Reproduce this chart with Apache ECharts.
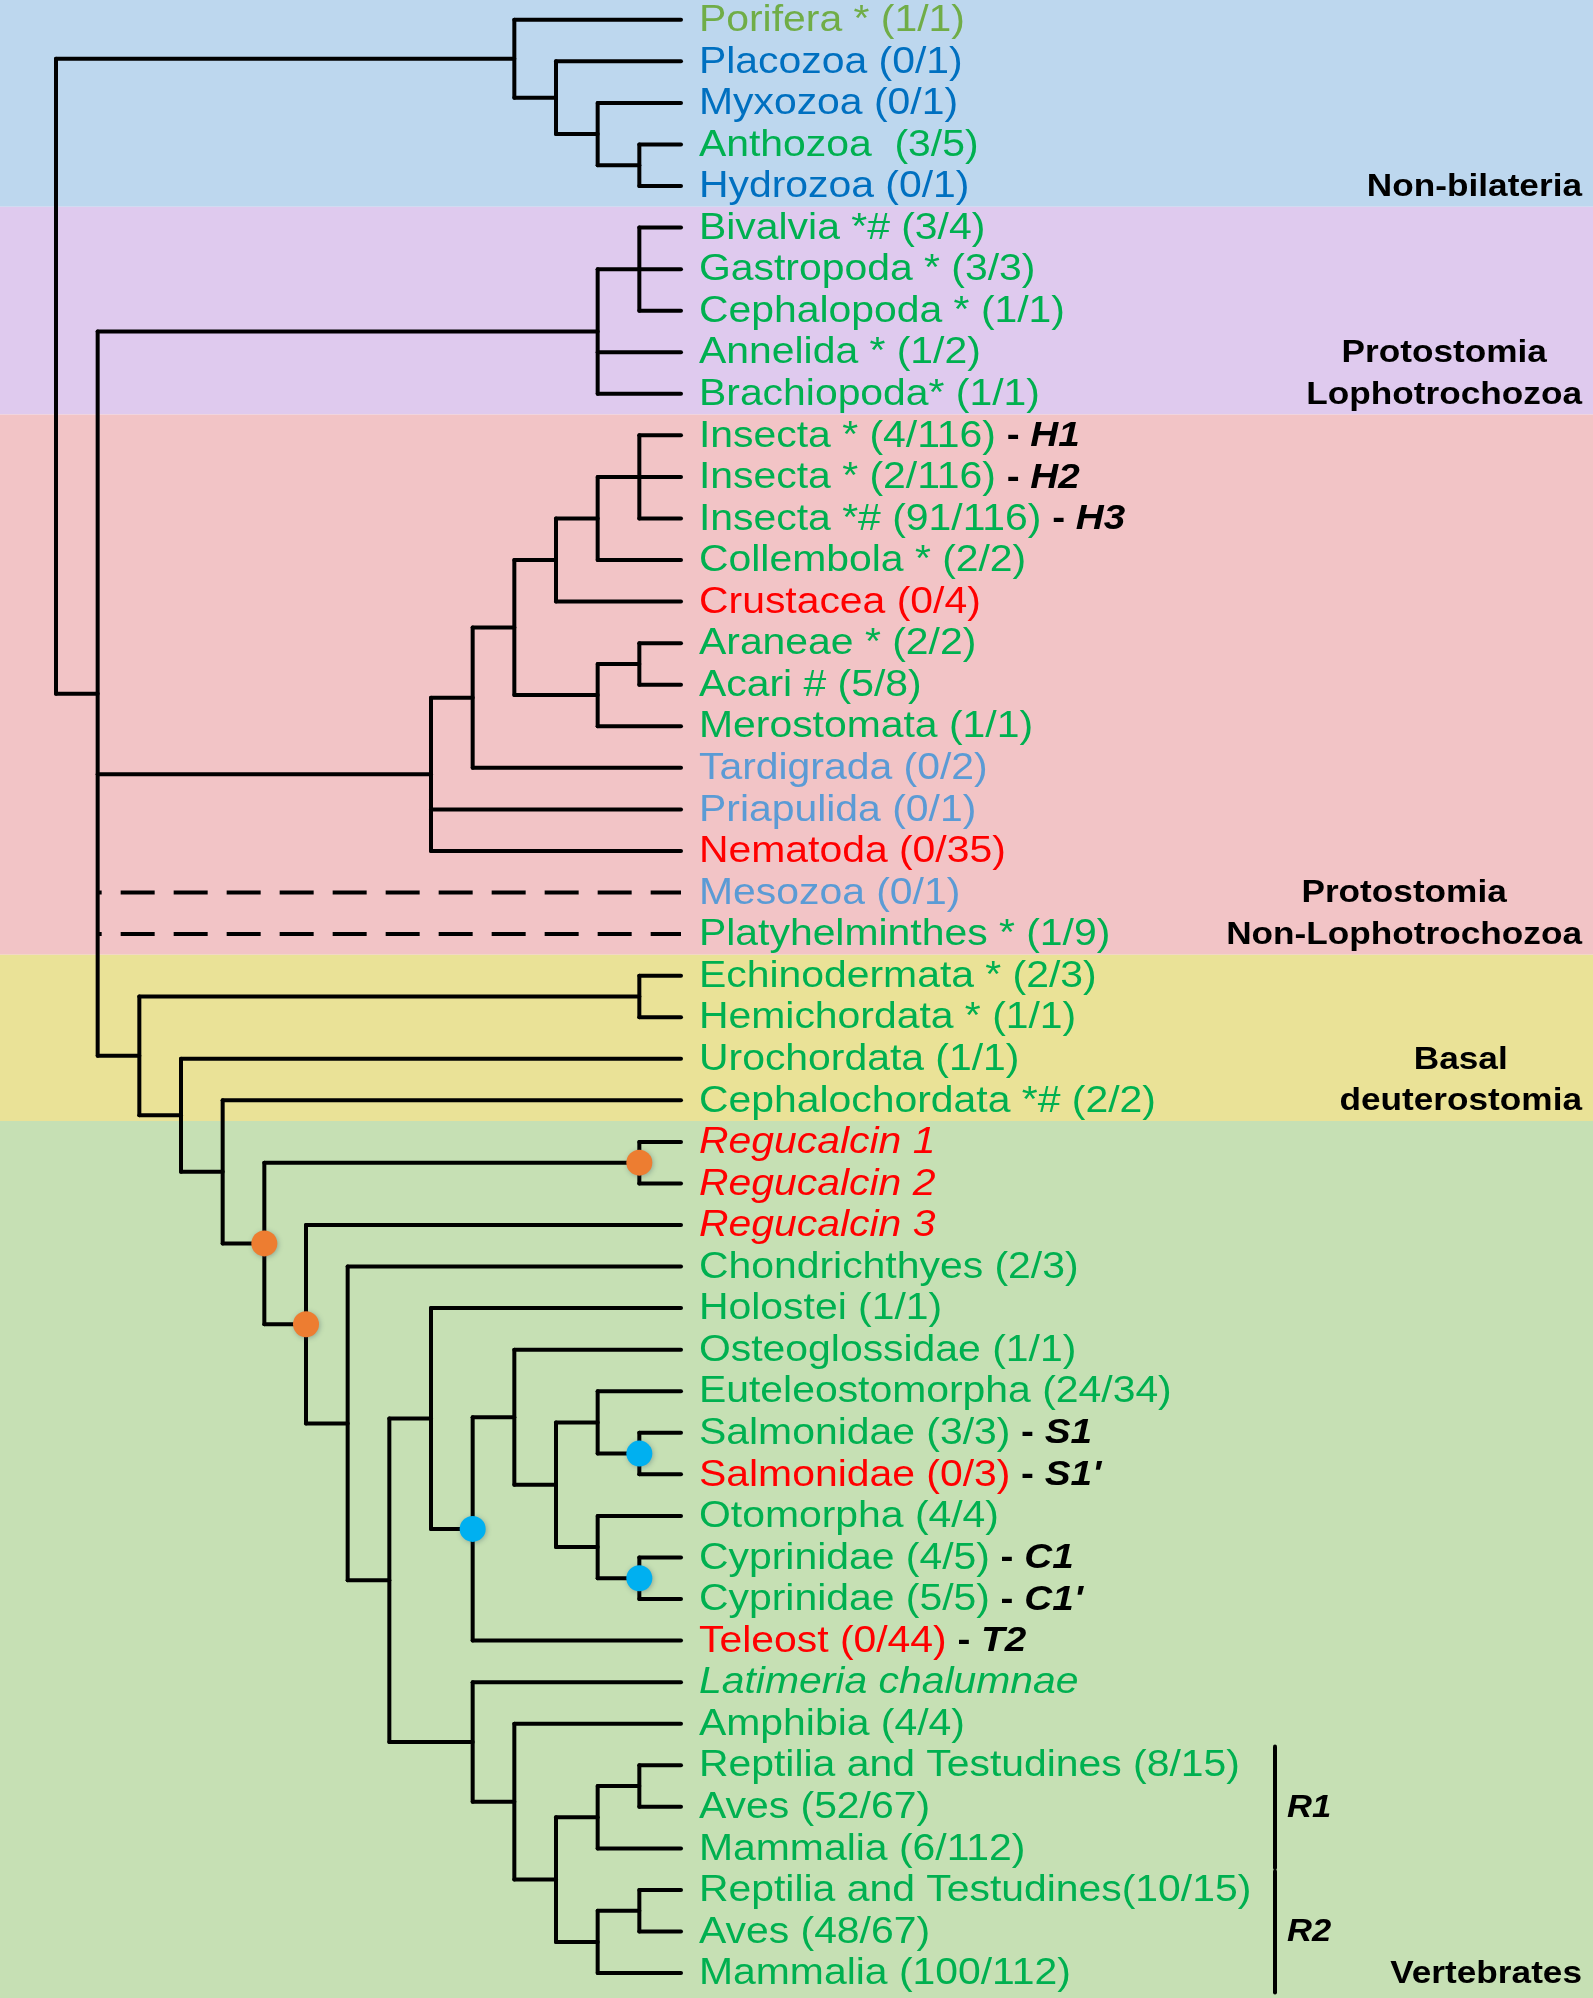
<!DOCTYPE html>
<html>
<head>
<meta charset="utf-8">
<script src="https://cdn.jsdelivr.net/npm/echarts@6/dist/echarts.min.js"></script>
<style>
html,body{margin:0;padding:0;background:#fff;}
#chart{width:1593px;height:1998px;}
</style>
</head>
<body>
<div id="chart"></div>
<script>
// ---------- DATA ----------
const leafNames = [
  'Porifera * (1/1)', 'Placozoa (0/1)', 'Myxozoa (0/1)', 'Anthozoa  (3/5)', 'Hydrozoa (0/1)',
  'Bivalvia *# (3/4)', 'Gastropoda * (3/3)', 'Cephalopoda * (1/1)', 'Annelida * (1/2)', 'Brachiopoda* (1/1)',
  'Insecta * (4/116)', 'Insecta * (2/116)', 'Insecta *# (91/116)', 'Collembola * (2/2)', 'Crustacea (0/4)',
  'Araneae * (2/2)', 'Acari # (5/8)', 'Merostomata (1/1)', 'Tardigrada (0/2)', 'Priapulida (0/1)',
  'Nematoda (0/35)', 'Mesozoa (0/1)', 'Platyhelminthes * (1/9)',
  'Echinodermata * (2/3)', 'Hemichordata * (1/1)', 'Urochordata (1/1)', 'Cephalochordata *# (2/2)',
  'Regucalcin 1', 'Regucalcin 2', 'Regucalcin 3', 'Chondrichthyes (2/3)', 'Holostei (1/1)',
  'Osteoglossidae (1/1)', 'Euteleostomorpha (24/34)', 'Salmonidae (3/3)', 'Salmonidae (0/3)',
  'Otomorpha (4/4)', 'Cyprinidae (4/5)', 'Cyprinidae (5/5)', 'Teleost (0/44)', 'Latimeria chalumnae',
  'Amphibia (4/4)', 'Reptilia and Testudines (8/15)', 'Aves (52/67)', 'Mammalia (6/112)',
  'Reptilia and Testudines(10/15)', 'Aves (48/67)', 'Mammalia (100/112)'
];
// colour class of each leaf label
const leafClass = [
  'olive','blue','blue','green','blue',
  'green','green','green','green','green',
  'green','green','green','green','red',
  'green','green','green','lblue','lblue',
  'red','lblue','green',
  'green','green','green','green',
  'red','red','red','green','green',
  'green','green','green','red',
  'green','green','green','red','green',
  'green','green','green','green',
  'green','green','green'
];
const italicLeaves = [27, 28, 29, 40];
const leafTags = {10:'H1', 11:'H2', 12:'H3', 34:'S1', 35:"S1'", 37:'C1', 38:"C1'", 39:'T2'};

// internal nodes: [id, depth level, children (leaf index or node id)]
const clades = [
  ['root', 0, ['NB', 'B']],
  ['NB', 11, [0, 'N1']],
  ['N1', 12, [1, 'N2']],
  ['N2', 13, [2, 'N3']],
  ['N3', 14, [3, 4]],
  ['B', 1, ['L', 'Ecd', 21, 22, 'Deut']],
  ['L', 13, ['Moll', 8, 9]],
  ['Moll', 14, [5, 6, 7]],
  ['Ecd', 9, ['E1', 19, 20]],
  ['E1', 10, ['E2', 18]],
  ['E2', 11, ['E3', 'E4']],
  ['E3', 12, ['E5', 14]],
  ['E5', 13, ['Ins', 13]],
  ['Ins', 14, [10, 11, 12]],
  ['E4', 13, ['Ar', 17]],
  ['Ar', 14, [15, 16]],
  ['Deut', 2, ['Amb', 'D2']],
  ['Amb', 14, [23, 24]],
  ['D2', 3, [25, 'D3']],
  ['D3', 4, [26, 'V']],
  ['V', 5, ['Reg', 'V2']],
  ['Reg', 14, [27, 28]],
  ['V2', 6, [29, 'V3']],
  ['V3', 7, [30, 'V4']],
  ['V4', 8, ['Act', 'Sarc']],
  ['Act', 9, [31, 'Tel']],
  ['Tel', 10, ['T1', 39]],
  ['T1', 11, [32, 'T2']],
  ['T2', 12, ['T3', 'T4']],
  ['T3', 13, [33, 'Sal']],
  ['Sal', 14, [34, 35]],
  ['T4', 13, [36, 'Cyp']],
  ['Cyp', 14, [37, 38]],
  ['Sarc', 10, [40, 'Tet']],
  ['Tet', 11, [41, 'Amn']],
  ['Amn', 12, ['R1', 'R2']],
  ['R1', 13, ['RA1', 44]],
  ['RA1', 14, [42, 43]],
  ['R2', 13, ['RA2', 47]],
  ['RA2', 14, [45, 46]]
];
const leafLevel = 15;
const dashedLeaves = [21, 22];
const orangeNodes = ['Reg', 'V', 'V2'];
const blueNodes = ['Tel', 'Sal', 'Cyp'];

// background groups: first leaf of each group
const groupStarts = [0, 5, 10, 23, 27];
const groupNames = [
  ['Non-bilateria'],
  ['Protostomia', 'Lophotrochozoa'],
  ['Protostomia', 'Non-Lophotrochozoa'],
  ['Basal', 'deuterostomia'],
  ['Vertebrates']
];
// leaf row where each group label starts
const groupLabelRow = [4, 8, 21, 25, 47];
// side brackets: [label, first leaf, last leaf]
const brackets = [['R1', 42, 44], ['R2', 45, 47]];

// ---------- STYLE ----------
const COLORS = {olive:'#70AD47', blue:'#0070C0', green:'#00B050', red:'#FF0000', lblue:'#5B9BD5'};
const DOT_COLORS = {orange: '#ED7D31', blue: '#00B0F0'};
const BAND_COLORS = ['#BDD7EE', '#DFCAEE', '#F2C4C6', '#EAE297', '#C6E0B4'];
const FONT = '"Liberation Sans", Arial, Helvetica, sans-serif';
const SX = 1.105;
const LW = 4;

// ---------- BUILD ----------
const cladeMap = {};
clades.forEach(c => cladeMap[c[0]] = {level: c[1], kids: c[2]});
function yOf(k) {
  if (typeof k === 'number') return k;
  const c = cladeMap[k];
  return (yOf(c.kids[0]) + yOf(c.kids[c.kids.length - 1])) / 2;
}
function levelOf(k) { return typeof k === 'number' ? leafLevel : cladeMap[k].level; }

const segData = [];
clades.forEach(c => {
  const lv = c[1], kids = c[2];
  segData.push([lv, yOf(kids[0]), lv, yOf(kids[kids.length - 1]), 0]);
  kids.forEach(k => {
    const y = yOf(k);
    segData.push([lv, y, levelOf(k), y, dashedLeaves.indexOf(k) >= 0 ? 1 : 0]);
  });
});
const dotData = [];
orangeNodes.forEach(n => dotData.push([cladeMap[n].level, yOf(n), 0]));
blueNodes.forEach(n => dotData.push([cladeMap[n].level, yOf(n), 1]));

const bandData = groupStarts.map((s, i) => [s - 0.5, i + 1 < groupStarts.length ? groupStarts[i + 1] - 0.5 : leafNames.length + 1, i]);
const leafData = leafNames.map((n, i) => [leafLevel, i]);
const groupData = groupNames.map((g, i) => [0, groupLabelRow[i], i]);
const bracketData = brackets.map((b, i) => [0, b[1], b[2], i]);

const measureCtx = document.createElement('canvas').getContext('2d');
function textW(t, font) { measureCtx.font = font; return measureCtx.measureText(t).width; }

const chart = echarts.init(document.getElementById('chart'), null, {renderer: 'canvas'});
const option = {
  backgroundColor: '#ffffff',
  animation: false,
  grid: {left: 0, right: 0, top: 0, bottom: 0},
  xAxis: {type: 'value', min: -1.344, max: 36.888, show: false},
  yAxis: {type: 'value', min: -0.476, max: 47.6, inverse: true, show: false},
  series: [
    {
      type: 'custom', name: 'bands', data: bandData, silent: true, z: 0,
      renderItem: function (params, api) {
        const p1 = api.coord([0, api.value(0)]);
        const p2 = api.coord([0, api.value(1)]);
        return {type: 'rect', shape: {x: 0, y: p1[1], width: api.getWidth(), height: p2[1] - p1[1]},
          style: {fill: BAND_COLORS[api.value(2)]}};
      }
    },
    {
      type: 'custom', name: 'branches', data: segData, silent: true, z: 2,
      renderItem: function (params, api) {
        const p1 = api.coord([api.value(0), api.value(1)]);
        const p2 = api.coord([api.value(2), api.value(3)]);
        const dashed = api.value(4) === 1;
        return {type: 'line', shape: {x1: p1[0], y1: p1[1], x2: p2[0], y2: p2[1]},
          style: {stroke: '#000', lineWidth: LW, lineCap: dashed ? 'butt' : 'round',
            lineDash: dashed ? [34, 19] : null, lineDashOffset: dashed ? 30 : 0}};
      }
    },
    {
      type: 'custom', name: 'nodes', data: dotData, silent: true, z: 10,
      renderItem: function (params, api) {
        const p = api.coord([api.value(0), api.value(1)]);
        return {type: 'circle', z2: 100, shape: {cx: p[0], cy: p[1], r: 13},
          style: {fill: api.value(2) === 0 ? DOT_COLORS.orange : DOT_COLORS.blue,
            shadowBlur: 5, shadowColor: 'rgba(40,70,90,0.35)', shadowOffsetX: 1, shadowOffsetY: 1}};
      }
    },
    {
      type: 'custom', name: 'leaves', data: leafData, silent: true, z: 4,
      renderItem: function (params, api) {
        const i = params.dataIndex;
        const p = api.coord([api.value(0), api.value(1)]);
        const it = italicLeaves.indexOf(i) >= 0;
        let txt = '{n|' + leafNames[i] + '}';
        if (leafTags[i]) txt += '{d| - }{t|' + leafTags[i] + '}';
        return {type: 'text', x: p[0] + 18, y: p[1] + 1, scaleX: SX,
          style: {x: 0, y: 0, text: txt, align: 'left', verticalAlign: 'middle',
            rich: {
              n: {fill: COLORS[leafClass[i]], fontSize: 37, fontFamily: FONT, fontStyle: it ? 'italic' : 'normal', verticalAlign: 'middle'},
              d: {fill: '#000', fontSize: 35, fontFamily: FONT, fontWeight: 'bold', verticalAlign: 'middle'},
              t: {fill: '#000', fontSize: 35, fontFamily: FONT, fontWeight: 'bold', fontStyle: 'italic', verticalAlign: 'middle'}
            }}};
      }
    },
    {
      type: 'custom', name: 'groups', data: groupData, silent: true, z: 4,
      renderItem: function (params, api) {
        const g = groupNames[api.value(2)];
        const row = api.value(1);
        const font = 'bold 32px ' + FONT;
        const sx = 1.1;
        let maxW = 0;
        g.forEach(t => maxW = Math.max(maxW, textW(t, font)));
        const cx = api.getWidth() - 11 - maxW * sx / 2;
        const children = g.map((t, j) => {
          const p = api.coord([0, row + j]);
          return {type: 'text', x: cx, y: p[1] + 1, scaleX: sx,
            style: {x: 0, y: 0, text: t, font: font, fill: '#000', align: 'center', verticalAlign: 'middle'}};
        });
        return {type: 'group', children: children};
      }
    },
    {
      type: 'custom', name: 'brackets', data: bracketData, silent: true, z: 4,
      renderItem: function (params, api) {
        const b = brackets[api.value(3)];
        const top = api.coord([0, api.value(1) - 0.45]);
        const bot = api.coord([0, api.value(2) + 0.47]);
        const mid = api.coord([0, (api.value(1) + api.value(2)) / 2]);
        const x = 1275;
        return {type: 'group', children: [
          {type: 'line', shape: {x1: x, y1: top[1], x2: x, y2: bot[1]}, style: {stroke: '#000', lineWidth: LW, lineCap: 'round'}},
          {type: 'text', x: x + 12, y: mid[1] + 1, scaleX: 1.08,
            style: {x: 0, y: 0, text: b[0], font: 'italic bold 32px ' + FONT, fill: '#000', align: 'left', verticalAlign: 'middle'}}
        ]};
      }
    }
  ]
};
chart.setOption(option);
</script>
</body>
</html>
